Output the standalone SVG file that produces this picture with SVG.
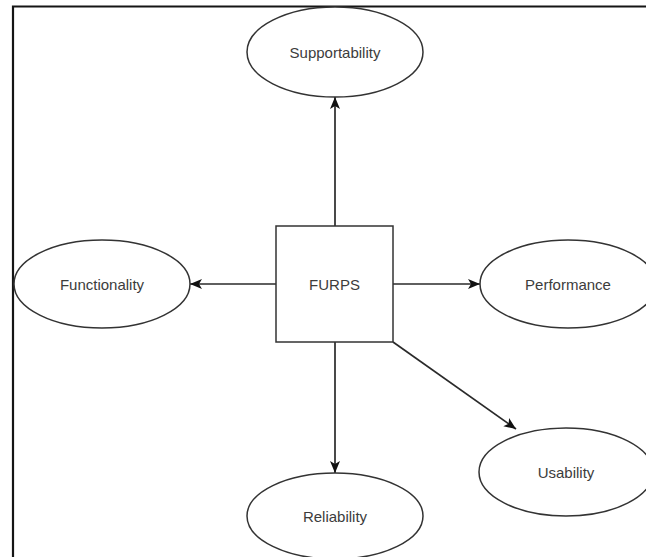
<svg xmlns="http://www.w3.org/2000/svg" width="646" height="557" viewBox="0 0 646 557">
  <style>
    .frame { fill: none; stroke: #151515; stroke-width: 2.2; }
    .shape { fill: #ffffff; stroke: #333333; stroke-width: 1.5; }
    .edge { fill: none; stroke: #2a2a2a; stroke-width: 1.7; }
    .label { font-family: "Liberation Sans", Arial, sans-serif; font-size: 15px; fill: #3c3c3c; text-anchor: middle; dominant-baseline: central; }
  </style>
  <defs>
    <marker id="arrow" viewBox="0 0 12 12" refX="12" refY="6" markerWidth="12" markerHeight="12" markerUnits="userSpaceOnUse" orient="auto">
      <path d="M0,1 L12,6 L0,11 L3,6 Z" fill="#111111"/>
    </marker>
  </defs>
  <rect width="646" height="557" fill="#ffffff"/>
  <!-- outer frame: top and left edges only -->
  <path class="frame" d="M13,557 L13,6.5 L646,6.5"/>

  <g id="connectors">
    <line class="edge" x1="335" y1="226" x2="335" y2="97" marker-end="url(#arrow)"/>
    <line class="edge" x1="276" y1="284" x2="190" y2="284" marker-end="url(#arrow)"/>
    <line class="edge" x1="393" y1="284" x2="480" y2="284" marker-end="url(#arrow)"/>
    <line class="edge" x1="335" y1="342" x2="335" y2="473" marker-end="url(#arrow)"/>
    <line class="edge" x1="393" y1="342" x2="516" y2="429" marker-end="url(#arrow)"/>
  </g>

  <g id="furps">
    <rect class="shape" x="276" y="226" width="117" height="116"/>
    <text class="label" x="334.5" y="284">FURPS</text>
  </g>
  <g id="supportability">
    <ellipse class="shape" cx="335" cy="52" rx="88" ry="45"/>
    <text class="label" x="335" y="52">Supportability</text>
  </g>
  <g id="functionality">
    <ellipse class="shape" cx="102" cy="284" rx="88" ry="44"/>
    <text class="label" x="102" y="284">Functionality</text>
  </g>
  <g id="performance">
    <ellipse class="shape" cx="568" cy="284" rx="88" ry="44"/>
    <text class="label" x="568" y="284">Performance</text>
  </g>
  <g id="usability">
    <ellipse class="shape" cx="566" cy="472" rx="87" ry="44"/>
    <text class="label" x="566" y="472">Usability</text>
  </g>
  <g id="reliability">
    <ellipse class="shape" cx="335" cy="516" rx="88" ry="43"/>
    <text class="label" x="335" y="516">Reliability</text>
  </g>
</svg>
